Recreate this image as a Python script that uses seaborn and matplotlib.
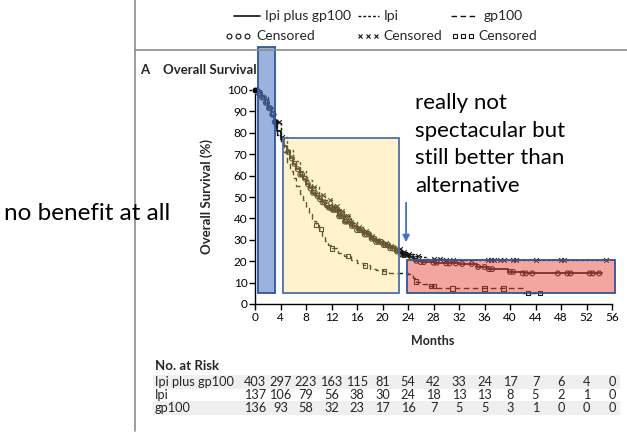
import numpy as np
import pandas as pd
import matplotlib
matplotlib.use("Agg")
import matplotlib.pyplot as plt
import matplotlib.transforms as mtransforms
from matplotlib.lines import Line2D
from matplotlib.patches import Rectangle
import seaborn as sns

# ---------------- data ----------------
combo_t = [0, 0.5, 1, 1.5, 2, 2.5, 3, 3.5, 4, 4.5, 5, 5.5, 6, 6.5, 7, 7.5, 8, 8.5, 9, 9.5,
           10, 10.5, 11, 11.5, 12, 13, 14, 15, 16, 17, 18, 19, 20, 21, 22, 23, 24, 25, 26,
           28, 30, 32, 34.8, 36.5, 39.7, 42, 54.5]
combo_s = [100, 98.5, 96.5, 94, 91.5, 88.5, 85, 81, 77.5, 74, 71, 68, 65.5, 63, 60.5, 58.5, 56, 54, 52, 50.5,
           49, 47.5, 46, 45, 44, 41, 38.5, 36.5, 34.5, 32.5, 30.5, 29, 27.5, 26, 24.5, 23, 22, 20.2, 19.6,
           19.3, 19.0, 18.7, 17.3, 16.3, 15.0, 14.3, 14.3]
ipi_t = [0, 1, 2, 3, 4, 5, 6, 7, 8, 9, 10, 11, 12, 13, 14, 15, 16, 17, 18, 19, 20, 21, 22, 23,
         24, 25, 26, 27, 30, 55]
ipi_s = [100, 96.5, 91.5, 85, 78, 72, 67, 62, 58, 54.5, 51, 48.5, 46, 43.5, 41, 38.5, 36, 34, 32, 30, 28.5, 27, 25.5, 24.5,
         23.5, 22.5, 21.8, 21.2, 20.6, 20.6]
gp_t = [0, 1, 2, 3, 3.5, 4, 4.5, 5, 5.5, 6, 6.5, 7, 7.5, 8, 8.5, 9, 9.5, 10, 10.5, 11, 11.5, 12,
        13, 14, 15, 16, 17, 18, 19, 20, 21, 22, 24, 24.8, 25.3, 26, 27, 28.3, 42, 44.7]
gp_s = [100, 96, 90, 83, 79, 75, 71, 66, 62, 59, 55, 51.5, 48.5, 45, 42, 39, 37, 35, 32, 29.5, 27.5, 26,
        24, 22.5, 20.5, 19, 18, 16.5, 16, 15.2, 14.6, 14.3, 14.0, 12, 10.5, 9.5, 8.4, 7.3, 5.0, 5.0]

combo_cens = [0.3, 0.6, 0.8, 1.1, 1.4, 1.7, 1.9, 2.2, 2.4, 2.7, 2.9, 3.1, 3.3,
              5.2, 5.8, 6.2, 6.7, 7.1, 7.4, 7.9, 8.3, 8.7, 9.1, 9.4, 9.8, 10.2, 10.6, 10.9, 11.3,
              11.6, 11.9, 12.2, 12.4, 12.7, 12.9, 13.2, 13.5, 13.8, 14.1, 14.4, 14.8, 15.2,
              15.6, 16.0, 16.4, 16.8, 17.2, 17.5, 17.9, 18.3, 18.7, 19.0, 19.4, 19.8, 20.2,
              20.5, 20.9, 21.2, 21.6, 21.9, 22.3, 22.7, 23.1, 23.4, 23.6,
              24.5, 25.3, 26, 26.5, 28, 28.5, 30, 30.5, 31.5, 32.5, 34, 35, 36, 36.7, 37.2, 40,
              40.5, 42, 42.5, 43.5, 47.5, 49, 49.5, 52.5, 53, 54]
ipi_cens = [3.8, 4.3, 9.3, 10.7, 11.8, 12.3, 12.8, 13.2, 13.7, 14.2, 14.6, 15.1, 16.3, 17.4, 18.4,
            19.2, 20.6, 21.4, 22.1, 22.8, 23.4, 24.2, 25.5, 28, 29, 30, 31, 36.5,
            37, 37.5, 38.5, 39, 40.5, 41, 44, 48, 48.5, 55]
gp_cens = [9.6, 10.4, 12.1, 14.6, 17.3, 20.2, 25.3, 27.6, 28.1, 31, 36, 39, 42.8, 44.7]

risk_months = [0, 4, 8, 12, 16, 20, 24, 28, 32, 36, 40, 44, 48, 52, 56]
risk_combo = [403, 297, 223, 163, 115, 81, 54, 42, 33, 24, 17, 7, 6, 4, 0]
risk_ipi = [137, 106, 79, 56, 38, 30, 24, 18, 13, 13, 8, 5, 2, 1, 0]
risk_gp = [136, 93, 58, 32, 23, 17, 16, 7, 5, 5, 3, 1, 0, 0, 0]
group_names = ["Ipi plus gp100", "Ipi", "gp100"]

x_ticks = list(range(0, 57, 4))
y_ticks = list(range(0, 101, 10))

# ---------------- style ----------------
sns.set_theme(style="ticks")
FONT = ["Lato", "DejaVu Sans"]
plt.rcParams["font.family"] = FONT

W, H = 627, 433
fig = plt.figure(figsize=(W / 100, H / 100), dpi=100)
fig.patch.set_facecolor("white")


def fx(x):
    return x / W


def fy(y):
    return 1 - y / H


ax = fig.add_axes([fx(255), fy(304), (612 - 255) / W, (304 - 90) / H])
ax.set_facecolor("white")

LINE_C = "#111111"
styles = {
    "Ipi plus gp100": dict(ls="-", lw=1.3),
    "Ipi": dict(ls=(0, (2.0, 1.5)), lw=1.0),
    "gp100": dict(ls=(0, (4.0, 2.5)), lw=1.0),
}

curves = {
    "Ipi plus gp100": (combo_t, combo_s, combo_cens, dict(marker="o", s=12, facecolors="none", edgecolors=LINE_C, linewidths=0.8)),
    "Ipi": (ipi_t, ipi_s, ipi_cens, dict(marker="x", s=11, color=LINE_C, linewidths=0.8)),
    "gp100": (gp_t, gp_s, gp_cens, dict(marker="s", s=10, facecolors="none", edgecolors=LINE_C, linewidths=0.8)),
}

for name, (t, s, cens, mk) in curves.items():
    df = pd.DataFrame({"t": t, "s": s})
    sns.lineplot(data=df, x="t", y="s", ax=ax, estimator=None, sort=False,
                 drawstyle="steps-post", color=LINE_C, linestyle=styles[name]["ls"],
                 linewidth=styles[name]["lw"], clip_on=False)
    tt = np.asarray(t, dtype=float)
    ss = np.asarray(s, dtype=float)
    ci = np.searchsorted(tt, np.asarray(cens), side="right") - 1
    cdf = pd.DataFrame({"t": cens, "s": ss[ci]})
    sns.scatterplot(data=cdf, x="t", y="s", ax=ax, clip_on=False, zorder=3, **mk)

# start point
sns.scatterplot(x=[0], y=[100], ax=ax, color="black", s=22, clip_on=False, zorder=4)

ax.set_xlim(0, 56)
ax.set_ylim(0, 100)
ax.set_xticks(x_ticks)
ax.set_yticks(y_ticks)
ax.tick_params(axis="both", direction="out", length=4, width=1, labelsize=8.5, pad=1.5, colors="black")
for sp in ["top", "right"]:
    ax.spines[sp].set_visible(False)
for sp in ["left", "bottom"]:
    ax.spines[sp].set_linewidth(1)
    ax.spines[sp].set_color("black")
ax.set_xlabel("")
ax.set_ylabel("")

# axis labels
fig.text(fx(433), fy(341), "Months", ha="center", va="center", fontsize=9, fontweight="bold")
fig.text(fx(207), fy(197), "Overall Survival (%)", ha="center", va="center", rotation=90,
         fontsize=9.5, fontweight="bold")
fig.text(fx(140), fy(70), "A", ha="left", va="center", fontsize=9.5, fontweight="bold")
fig.text(fx(163), fy(70), "Overall Survival", ha="left", va="center", fontsize=9.5, fontweight="bold")

# frame lines
fig.add_artist(Line2D([fx(135), fx(135)], [fy(0), fy(431)], color="#8c8c8c", lw=1.2))
fig.add_artist(Line2D([fx(135), fx(627)], [fy(50), fy(50)], color="#8c8c8c", lw=1.2))

# legend (top)
LEG_FS = 10
fig.add_artist(Line2D([fx(234), fx(260)], [fy(16), fy(16)], color=LINE_C, lw=1.2))
fig.text(fx(265), fy(16), "Ipi plus gp100", ha="left", va="center", fontsize=LEG_FS)
fig.add_artist(Line2D([fx(358), fx(379)], [fy(16), fy(16)], color=LINE_C, lw=1, ls=(0, (2.0, 1.5))))
fig.text(fx(384), fy(16), "Ipi", ha="left", va="center", fontsize=LEG_FS)
fig.add_artist(Line2D([fx(451), fx(478)], [fy(16), fy(16)], color=LINE_C, lw=1, ls=(0, (4.0, 2.5))))
fig.text(fx(484), fy(16), "gp100", ha="left", va="center", fontsize=LEG_FS)

for xs, mk, tx in [((229, 238, 247), "o", 256), ((360, 368, 376), "x", 383), ((455, 463, 471), "s", 478)]:
    fig.add_artist(Line2D([fx(v) for v in xs], [fy(36)] * 3, ls="none", marker=mk, ms=3.5,
                          mfc="none", mec=LINE_C, mew=0.8))
    fig.text(fx(tx), fy(36), "Censored", ha="left", va="center", fontsize=LEG_FS)

# highlight rectangles (on top, semi-transparent)
rects = [
    ((0.47, 5.1), 3.14 - 0.47, 120.0 - 5.1, (0.345, 0.498, 0.796, 0.6), "#2f5597"),
    ((4.4, 5.1), 22.6 - 4.4, 77.6 - 5.1, (1.0, 0.855, 0.427, 0.35), "#4a6fb0"),
    ((23.8, 5.1), 56.5 - 23.8, 20.6 - 5.1, (0.913, 0.302, 0.255, 0.5), "#2f5597"),
]
for xy, w, h, fc, ec in rects:
    ax.add_patch(Rectangle(xy, w, h, facecolor=fc, edgecolor=ec, lw=1.3, clip_on=False, zorder=5))

# arrow
ax.annotate("", xy=(23.7, 27.6), xytext=(23.7, 48.6),
            arrowprops=dict(arrowstyle="-|>", color="#4472c4", lw=1.3, mutation_scale=10),
            annotation_clip=False, zorder=6)

# annotations
fig.text(fx(4), fy(214), "no benefit at all", ha="left", va="center", fontsize=17.5, color="black")
for i, line in enumerate(["really not", "spectacular but", "still better than", "alternative"]):
    fig.text(fx(415), fy(103 + 27.7 * i), line, ha="left", va="center", fontsize=16, color="black")

# number at risk table
TAB_FS = 9.2
blend = mtransforms.blended_transform_factory(ax.transData, fig.transFigure)
fig.text(fx(155), fy(366), "No. at Risk", ha="left", va="center", fontsize=9.5, fontweight="bold")
row_y = [382, 395, 408]
for yb in (0, 2):
    fig.add_artist(Rectangle((fx(153), fy(row_y[yb] + 7)), (620 - 153) / W, 14 / H,
                             facecolor="#efefef", edgecolor="none", zorder=0))
for name, vals, yy in zip(group_names, [risk_combo, risk_ipi, risk_gp], row_y):
    fig.text(fx(155), fy(yy), name, ha="left", va="center", fontsize=TAB_FS)
    for m, v in zip(risk_months, vals):
        ax.text(m, fy(yy), str(v), transform=blend, ha="center", va="center", fontsize=TAB_FS)

fig.savefig("out.png", dpi=100, facecolor="white")
